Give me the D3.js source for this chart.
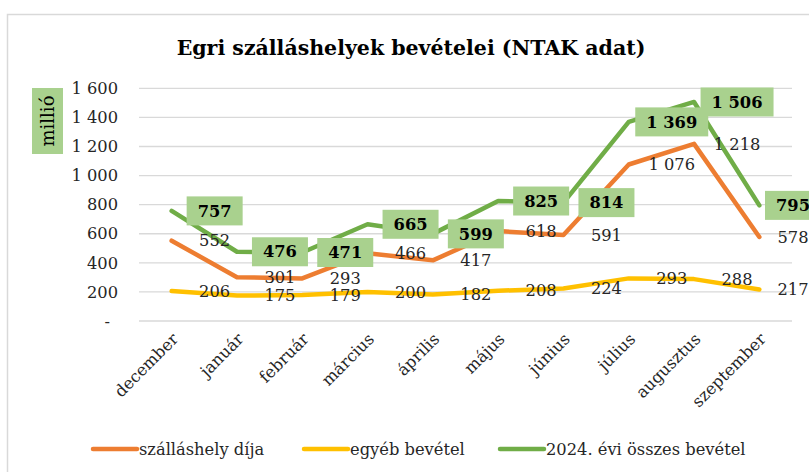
<!DOCTYPE html>
<html><head><meta charset="utf-8">
<script src="https://cdn.jsdelivr.net/npm/d3@7"></script>
<style>
html,body{margin:0;padding:0;background:#fff;}
text{font-family:"DejaVu Serif",serif;fill:#262626;}
</style></head>
<body><svg id="c" width="809" height="472"></svg>
<script>
const categories = ["december","január","február","március","április","május","június","július","augusztus","szeptember"];
const szallasDija = [552,301,293,466,417,618,591,1076,1218,578];
const egyebBevetel = [206,175,179,200,182,208,224,293,288,217];
const osszesBevetel = [757,476,471,665,599,825,814,1369,1506,795];
const yTicks = [0,200,400,600,800,1000,1200,1400,1600];
const seriesNames = ["szálláshely díja","egyéb bevétel","2024. évi összes bevétel"];
const seriesColors = ["#ED7D31","#FFC000","#70AD47"];
const title = "Egri szálláshelyek bevételei (NTAK adat)";
const yLabel = "millió";

const series = [
  {name:seriesNames[0], values:szallasDija, color:seriesColors[0], boxed:false},
  {name:seriesNames[1], values:egyebBevetel, color:seriesColors[1], boxed:false},
  {name:seriesNames[2], values:osszesBevetel, color:seriesColors[2], boxed:true}
];

const loc = d3.formatLocale({decimal:",", thousands:"\u00a0", grouping:[3], currency:["",""]});
const fmt = loc.format(",d");
const FS = "16.3px";

const svg = d3.select("#c");
svg.append("rect").attr("x",7.5).attr("y",14.5).attr("width",840).attr("height",500)
  .attr("fill","none").attr("stroke","#D9D9D9").attr("stroke-width",1.5);

const x = d3.scalePoint().domain(categories).range([139,792]).padding(0.5);
const y = d3.scaleLinear().domain([0,1600]).range([321,88.3]);

svg.append("text").attr("x",411).attr("y",55).attr("text-anchor","middle")
  .style("font-size","20.5px").style("font-weight","bold").style("fill","#000").text(title);

svg.append("g").selectAll("line").data(yTicks).join("line")
  .attr("x1",139).attr("x2",792).attr("y1",d=>y(d)).attr("y2",d=>y(d))
  .attr("stroke","#D9D9D9").attr("stroke-width",1.3);

const yAxis = d3.axisLeft(y).tickValues(yTicks).tickSize(0).tickPadding(0)
  .tickFormat(d=> d===0 ? "-" : fmt(d));
const gy = svg.append("g").attr("transform","translate(118,0)").call(yAxis);
gy.select(".domain").remove();
gy.selectAll("text").style("font-size",FS).style("font-family","DejaVu Serif").style("fill","#262626")
  .attr("dx",d=>d===0?-8:0);

const xAxis = d3.axisBottom(x).tickSize(0).tickPadding(0);
const gx = svg.append("g").attr("transform","translate(0,330)").call(xAxis);
gx.select(".domain").remove();
gx.selectAll("text").style("font-size",FS).style("font-family","DejaVu Serif").style("fill","#262626")
  .attr("text-anchor","end").attr("transform","translate(-1,2) rotate(-45)").attr("dy","0.7em").attr("y",0);

svg.append("rect").attr("x",32).attr("y",88).attr("width",31).attr("height",66).attr("fill","#A9D18E");
svg.append("text").attr("transform","translate(47.5,121) rotate(-90)").attr("text-anchor","middle")
  .attr("dy","0.35em").style("font-size","18px").style("fill","#000").text(yLabel);

const line = d3.line().x((d,i)=>x(categories[i])).y(d=>y(d));
svg.append("g").selectAll("path").data(series).join("path")
  .attr("d",s=>line(s.values)).attr("fill","none").attr("stroke",s=>s.color)
  .attr("stroke-width",4.5).attr("stroke-linejoin","round").attr("stroke-linecap","round");

const lbl = svg.append("g");
series.forEach(s=>{
  s.values.forEach((v,i)=>{
    const cx = Math.min(x(categories[i])+43, 793);
    const cy = y(v);
    const g = lbl.append("g");
    const t = g.append("text").attr("x",cx).attr("y",cy).attr("dy","0.35em").attr("text-anchor","middle")
      .style("font-size",FS).style("fill", s.boxed ? "#000" : "#262626")
      .style("font-weight", s.boxed ? "bold" : "normal").text(fmt(v));
    if (s.boxed) {
      const w = t.node().getComputedTextLength();
      g.insert("rect","text").attr("x",cx-w/2-11).attr("y",cy-14.5).attr("width",w+22).attr("height",29)
        .attr("fill","#A9D18E");
    }
  });
});

const legendX = [93, 304, 500];
const leg = svg.append("g");
series.forEach((s,i)=>{
  leg.append("line").attr("x1",legendX[i]).attr("x2",legendX[i]+44).attr("y1",449).attr("y2",449)
    .attr("stroke",s.color).attr("stroke-width",4.5).attr("stroke-linecap","round");
  leg.append("text").attr("x",legendX[i]+46).attr("y",449).attr("dy","0.35em")
    .style("font-size",FS).style("fill","#262626").text(s.name);
});
</script></body></html>
